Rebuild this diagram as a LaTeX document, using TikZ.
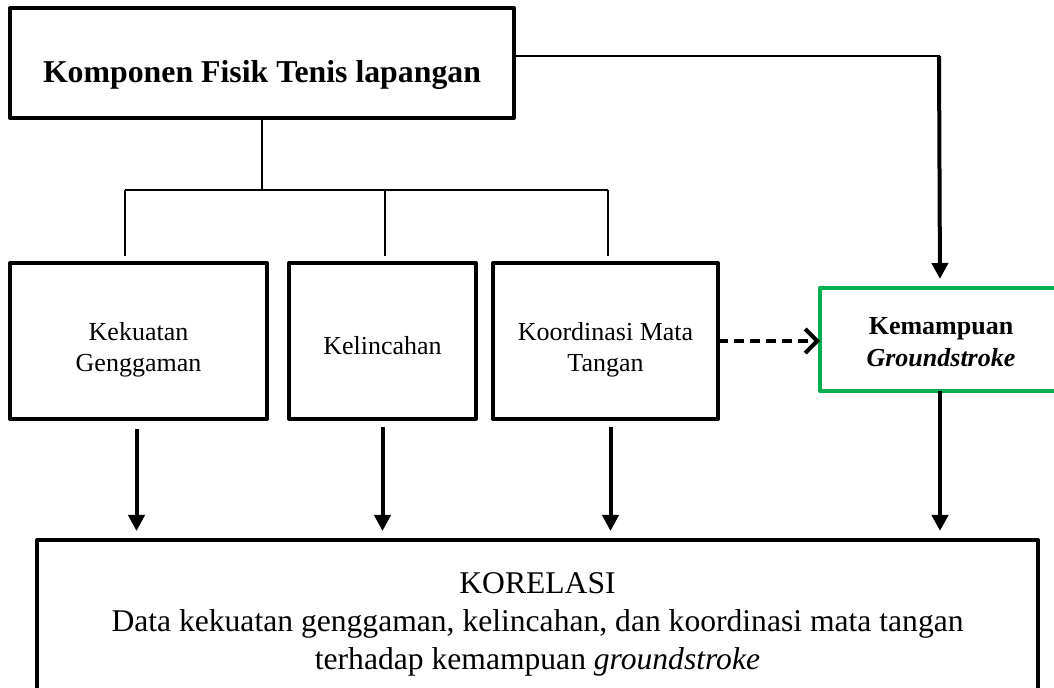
\documentclass[tikz,border=0pt]{standalone}
\usepackage{fontspec}
\setmainfont{Liberation Serif}
\usetikzlibrary{arrows.meta}
\definecolor{boxgreen}{RGB}{0,176,80}
\newcommand{\mlines}[1]{\vtop{\halign{\hfil##\hfil\cr#1\crcr}}}
\begin{document}
\begin{tikzpicture}[x=0.5pt,y=-0.5pt,
  box/.style={draw,line width=2pt,line join=round,inner sep=0pt,outer sep=0pt},
  smallbox/.style={box,minimum height=78pt,font=\fontsize{13pt}{15.5pt}\selectfont},
  greenbox/.style={draw=boxgreen,line width=2.1pt,line join=round,inner sep=0pt,outer sep=0pt,
    minimum width=121pt,minimum height=51.5pt,font=\fontsize{13pt}{16pt}\selectfont\bfseries},
  thinline/.style={line width=0.75pt},
  thickarrow/.style={line width=2pt,-{Triangle[width=8pt,length=8pt]}},
  dasharrow/.style={line width=2pt,dash pattern=on 5pt off 3pt,-{Straight Barb[length=6pt,width=12pt,line width=2pt]}}
]
\useasboundingbox (0,0) rectangle (1054,688);
% top box
\node[box,minimum width=252pt,minimum height=55pt,text height=20pt,text depth=0pt,
  font=\fontsize{15.9pt}{19pt}\selectfont\bfseries] (top) at (262,63) {Komponen Fisik Tenis lapangan};
% three factor boxes
\node[smallbox,minimum width=128.5pt,text height=0pt,text depth=0pt] (b1) at (138.5,341) {\mlines{Kekuatan\cr Genggaman}};
\node[smallbox,minimum width=93.5pt,text height=14pt,text depth=0pt] (b2) at (382.5,341) {Kelincahan};
\node[smallbox,minimum width=112.5pt,text height=0pt,text depth=0pt] (b3) at (605.5,341) {\mlines{Koordinasi Mata\cr Tangan}};
% green box
\node[greenbox,text height=0pt,text depth=4.5pt] (g) at (941,339.5) {\mlines{Kemampuan\cr \textit{Groundstroke}}};
% bottom box
\node[box,minimum width=500.5pt,minimum height=80pt,text height=0pt,text depth=26pt,
  font=\fontsize{15.8pt}{19pt}\selectfont] (k) at (537.5,620)
  {\mlines{KORELASI\cr Data kekuatan genggaman, kelincahan, dan koordinasi mata tangan\cr terhadap kemampuan \textit{groundstroke}}};
% tree connectors
\coordinate (j) at (262,190);
\coordinate (d1) at (125,190);
\coordinate (d2) at (385,190);
\coordinate (d3) at (608,190);
\coordinate (e1) at (125,256);
\coordinate (e2) at (385,256);
\coordinate (e3) at (608,256);
\draw[thinline] (top.south) -- (j);
\draw[thinline] (d1) -- (d3);
\draw[thinline] (d1) -- (e1);
\draw[thinline] (d2) -- (e2);
\draw[thinline] (d3) -- (e3);
% top box to green box
\coordinate (c) at (940,56);
\draw[thinline] (top.east |- c) -- (c);
\draw[thickarrow,shorten >=4.5pt] ([xshift=-0.5pt]c) -- (c |- g.north);
% dashed arrow
\draw[dasharrow] (b3.east) -- (b3.east -| g.west);
% arrows to KORELASI
\draw[thickarrow,shorten <=5pt,shorten >=4.5pt] ([xshift=-1pt]b1.south) -- ([xshift=-1pt]b1.south |- k.north);
\draw[thickarrow,shorten <=4pt,shorten >=4.5pt] (b2.south) -- (b2.south |- k.north);
\draw[thickarrow,shorten <=4pt,shorten >=4.5pt] ([xshift=2.5pt]b3.south) -- ([xshift=2.5pt]b3.south |- k.north);
\draw[thickarrow,shorten >=4.5pt] (c |- g.south) -- (c |- k.north);
\end{tikzpicture}
\end{document}
